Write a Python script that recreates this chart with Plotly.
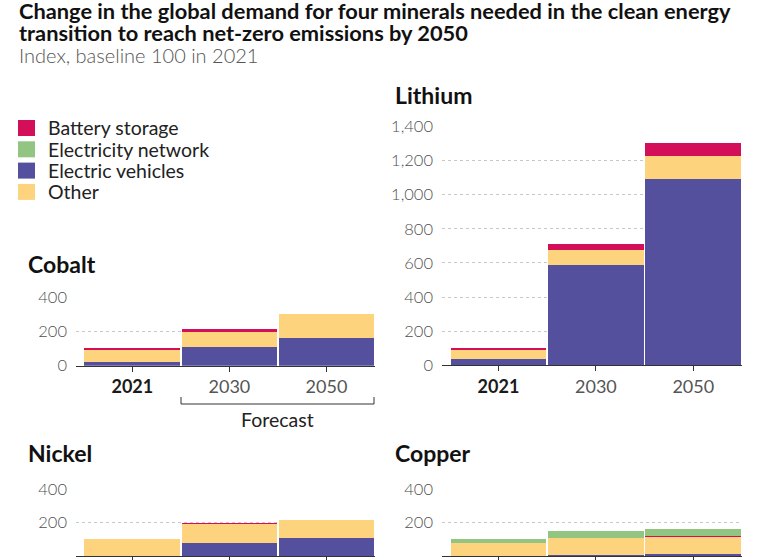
import plotly.graph_objects as go

W, H = 768, 560

categories = ["2021", "2030", "2050"]
series_names = ["Electric vehicles", "Other", "Battery storage", "Electricity network"]
colors = {
    "Battery storage": "#d40f59",
    "Electricity network": "#92c482",
    "Electric vehicles": "#55509e",
    "Other": "#fdd37e",
}

cobalt_ev = [23, 110, 168]
cobalt_other = [77, 95, 140]
cobalt_battery = [1, 11, 0]
cobalt_network = [0, 0, 0]

lithium_ev = [40, 588, 1095]
lithium_other = [54, 88, 133]
lithium_battery = [5, 39, 78]
lithium_network = [0, 0, 0]

nickel_ev = [2, 80, 110]
nickel_other = [98, 115, 105]
nickel_battery = [0, 2, 0]
nickel_network = [0, 0, 0]

copper_ev = [1, 4, 8]
copper_other = [78, 102, 110]
copper_battery = [0, 0, 2]
copper_network = [20, 40, 41]

minerals = {
    "Cobalt": [cobalt_ev, cobalt_other, cobalt_battery, cobalt_network],
    "Lithium": [lithium_ev, lithium_other, lithium_battery, lithium_network],
    "Nickel": [nickel_ev, nickel_other, nickel_battery, nickel_network],
    "Copper": [copper_ev, copper_other, copper_battery, copper_network],
}
y_max = {"Cobalt": 400, "Lithium": 1400, "Nickel": 400, "Copper": 400}
y_ticks = {"Cobalt": [0, 200, 400], "Lithium": [0, 200, 400, 600, 800, 1000, 1200, 1400],
           "Nickel": [0, 200, 400], "Copper": [0, 200, 400]}
legend_order = ["Battery storage", "Electricity network", "Electric vehicles", "Other"]

title_lines = ["Change in the global demand for four minerals needed in the clean energy",
               "transition to reach net-zero emissions by 2050"]
subtitle = "Index, baseline 100 in 2021"

# pixel layout of panels: (x_left, x_right, y_top, y_bottom)
panels = {
    "Cobalt": (76, 375, 297.5, 365.7),
    "Lithium": (442, 742, 126.5, 365.2),
    "Nickel": (76, 375, 489.0, 556.0),
    "Copper": (442, 742, 489.2, 556.0),
}
title_pos = {"Cobalt": (26, 264), "Lithium": (393, 95), "Nickel": (26, 453), "Copper": (393, 453)}
# the bottom row's year labels fall below the visible frame
show_labels = {"Cobalt": True, "Lithium": True, "Nickel": False, "Copper": False}

FONT = "Lato"

def px(x):
    return x / W

def py(y):
    return 1 - y / H

fig = go.Figure()
layout = dict(
    width=W, height=H, margin=dict(l=0, r=0, t=0, b=0, autoexpand=False),
    paper_bgcolor="white", plot_bgcolor="white",
    barmode="stack", bargap=0, showlegend=False,
    font=dict(family=FONT, color="#222"),
)

xvals = list(range(len(categories)))
ticktext = ["<span style='color:#1a1a1a'><b>" + categories[0] + "</b></span>"] + categories[1:]

annotations = []
shapes = []
for i, (name, vals) in enumerate(minerals.items(), start=1):
    xa = "x" if i == 1 else f"x{i}"
    ya = "y" if i == 1 else f"y{i}"
    for sname, v in zip(series_names, vals):
        fig.add_trace(go.Bar(
            x=xvals, y=v, name=sname, width=0.985,
            marker=dict(color=colors[sname], line=dict(width=0)),
            xaxis=xa, yaxis=ya, hoverinfo="skip",
        ))
    x0, x1, y0, y1 = panels[name]
    layout["xaxis" if i == 1 else f"xaxis{i}"] = dict(
        domain=[px(x0), px(x1)], range=[-0.58, 2.5], anchor=ya,
        tickvals=xvals, ticktext=ticktext, automargin=False,
        showticklabels=show_labels[name],
        showline=True, linecolor="#333", linewidth=1.2,
        ticks="outside", ticklen=5, tickcolor="#333", tickwidth=1,
        showgrid=False, zeroline=False,
        tickfont=dict(family=FONT, size=18, color="#555"),
        fixedrange=True,
    )
    layout["yaxis" if i == 1 else f"yaxis{i}"] = dict(
        domain=[py(y1), py(y0)], range=[0, y_max[name]], anchor=xa,
        tickvals=y_ticks[name], tickformat=",", automargin=False,
        ticklabelstandoff=8,
        showgrid=True, gridcolor="#c8c8c8", griddash="dot", gridwidth=1,
        zeroline=False, showline=False, ticks="",
        tickfont=dict(family=FONT, size=16.5, color="#505050", weight=300),
        fixedrange=True,
    )
    tx, ty = title_pos[name]
    annotations.append(dict(
        text="<b>" + name + "</b>", x=px(tx), y=py(ty), xref="paper", yref="paper",
        xanchor="left", yanchor="middle", showarrow=False,
        font=dict(family=FONT, size=23, color="#111"),
    ))

# main title & subtitle
for k, line in enumerate(title_lines):
    annotations.append(dict(
        text="<b>" + line + "</b>",
        x=px(17), y=py(10 + 22 * k), xref="paper", yref="paper", xanchor="left", yanchor="middle",
        align="left", showarrow=False, font=dict(family=FONT, size=21.8, color="#111"),
    ))
annotations.append(dict(
    text=subtitle,
    x=px(17), y=py(55), xref="paper", yref="paper", xanchor="left", yanchor="middle",
    align="left", showarrow=False, font=dict(family=FONT, size=20, color="#555", weight=300),
))

# legend
for k, lname in enumerate(legend_order):
    yc = 128 + k * 21.3
    shapes.append(dict(type="rect", xref="paper", yref="paper",
                       x0=px(18), x1=px(35), y0=py(yc - 8), y1=py(yc + 8),
                       fillcolor=colors[lname], line=dict(width=0)))
    annotations.append(dict(
        text=lname, x=px(46), y=py(yc), xref="paper", yref="paper",
        xanchor="left", yanchor="middle", showarrow=False,
        font=dict(family=FONT, size=19.5, color="#222"),
    ))

# forecast bracket
shapes.append(dict(type="path", xref="paper", yref="paper",
                   path=f"M {px(181)} {py(397)} L {px(181)} {py(404)} L {px(374)} {py(404)} L {px(374)} {py(397)}",
                   line=dict(color="#333", width=1)))
annotations.append(dict(
    text="Forecast", x=px(277.5), y=py(419), xref="paper", yref="paper",
    xanchor="center", yanchor="middle", showarrow=False,
    font=dict(family=FONT, size=19.5, color="#222"),
))

layout["annotations"] = annotations
layout["shapes"] = shapes
fig.update_layout(**layout)
fig.write_html("out.html")
